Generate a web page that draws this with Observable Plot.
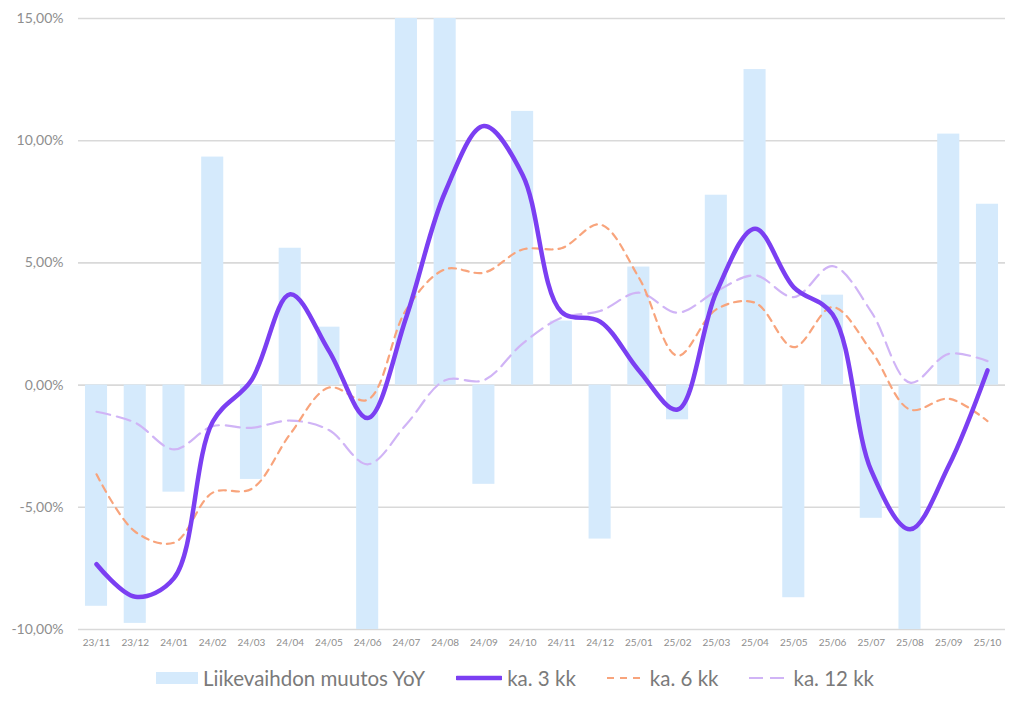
<!DOCTYPE html>
<html><head><meta charset="utf-8">
<script src="https://cdn.jsdelivr.net/npm/d3@7"></script>
<script src="https://cdn.jsdelivr.net/npm/@observablehq/plot@0.6"></script>
<style>
body{margin:0;background:#fff;font-family:Lato,sans-serif;}
#chart svg{display:block;}
#legend{display:flex;justify-content:center;align-items:center;height:46px;padding-left:6px;color:#7a7a7a;font-size:20.5px;font-family:Lato,sans-serif;}
#legend .item{display:flex;align-items:center;margin:0 15.5px;}
#legend svg{margin-right:5px;}
</style></head><body>
<div id="chart"></div>
<div id="legend"></div>
<script>
const months = ["23/11","23/12","24/01","24/02","24/03","24/04","24/05","24/06","24/07","24/08","24/09","24/10","24/11","24/12","25/01","25/02","25/03","25/04","25/05","25/06","25/07","25/08","25/09","25/10"];
const yoy  = [-9.05,-9.75,-4.38,9.33,-3.86,5.6,2.37,-10,15,15,-4.06,11.2,2.62,-6.3,4.83,-1.42,7.77,12.91,-8.7,3.68,-5.45,-10,10.27,7.4];
const ka3  = [-7.33,-8.66,-7.9,-1.5,0.2,3.72,1.4,-1.35,2.8,7.9,10.6,8.6,3.0,2.6,0.6,-1.0,3.8,6.4,4.0,2.9,-3.5,-5.9,-3.3,0.6];
const ka6  = [-3.65,-6.0,-6.45,-4.4,-4.25,-2.0,-0.1,-0.6,3.1,4.74,4.6,5.55,5.6,6.57,4.4,1.2,3.1,3.37,1.55,3.19,1.4,-1.0,-0.56,-1.47];
const ka12 = [-1.09,-1.54,-2.63,-1.68,-1.75,-1.45,-1.84,-3.24,-1.6,0.2,0.2,1.7,2.75,3.03,3.78,2.96,3.84,4.49,3.6,4.87,3.0,0.1,1.28,0.98];
const yTicks = [-10,-5,0,5,10,15];
const seriesNames = ["Liikevaihdon muutos YoY","ka. 3 kk","ka. 6 kk","ka. 12 kk"];
const colors = {bar:"#d5eafc", k3:"#7b3ff2", k6:"#f8a47c", k12:"#d0b4f6"};

const data = months.map((m,i)=>({m, yoy:yoy[i], ka3:ka3[i], ka6:ka6[i], ka12:ka12[i]}));
const fmt = d => d.toFixed(2).replace(".",",") + "%";

const plot = Plot.plot({
  width: 1024, height: 655,
  marginTop: 18, marginBottom: 26, marginLeft: 78, marginRight: 19,
  style: {fontFamily: "Lato, sans-serif", background: "#fff"},
  x: {domain: months, paddingInner: 0.43, paddingOuter: 0.18, round: false, label: null},
  y: {domain: [-10, 15], label: null},
  marks: [
    Plot.gridY(yTicks, {stroke: "#d9d9d9", strokeOpacity: 1, strokeWidth: 1.6}),
    Plot.barY(data, {x: "m", y: "yoy", fill: colors.bar}),
    Plot.lineY(data, {x: "m", y: "ka12", stroke: colors.k12, strokeWidth: 2.2, strokeDasharray: "14,7", curve: "catmull-rom"}),
    Plot.lineY(data, {x: "m", y: "ka6", stroke: colors.k6, strokeWidth: 2.2, strokeDasharray: "7,6", curve: "catmull-rom"}),
    Plot.lineY(data, {x: "m", y: "ka3", stroke: colors.k3, strokeWidth: 4.5, curve: "catmull-rom"}),
    Plot.axisY(yTicks, {tickSize: 0, tickPadding: 15, tickFormat: fmt, fontSize: 14, fill: "#8e8e8e"}),
    Plot.axisX({tickSize: 0, tickPadding: 9, fontSize: 10, fill: "#8e8e8e"})
  ]
});
document.getElementById("chart").appendChild(plot);

const legend = document.getElementById("legend");
const swatches = [
  `<svg width="42" height="12"><rect width="42" height="12" fill="${colors.bar}"/></svg>`,
  `<svg width="46" height="6"><line x1="1" y1="3" x2="45" y2="3" stroke="${colors.k3}" stroke-width="4.5" stroke-linecap="round"/></svg>`,
  `<svg width="38" height="6"><line x1="0" y1="3" x2="38" y2="3" stroke="${colors.k6}" stroke-width="2.2" stroke-dasharray="7,6"/></svg>`,
  `<svg width="39" height="6"><line x1="0" y1="3" x2="39" y2="3" stroke="${colors.k12}" stroke-width="2.2" stroke-dasharray="14,7"/></svg>`
];
seriesNames.forEach((n,i)=>{
  const d = document.createElement("div");
  d.className = "item";
  d.innerHTML = swatches[i] + `<span>${n}</span>`;
  legend.appendChild(d);
});
</script>
</body></html>
